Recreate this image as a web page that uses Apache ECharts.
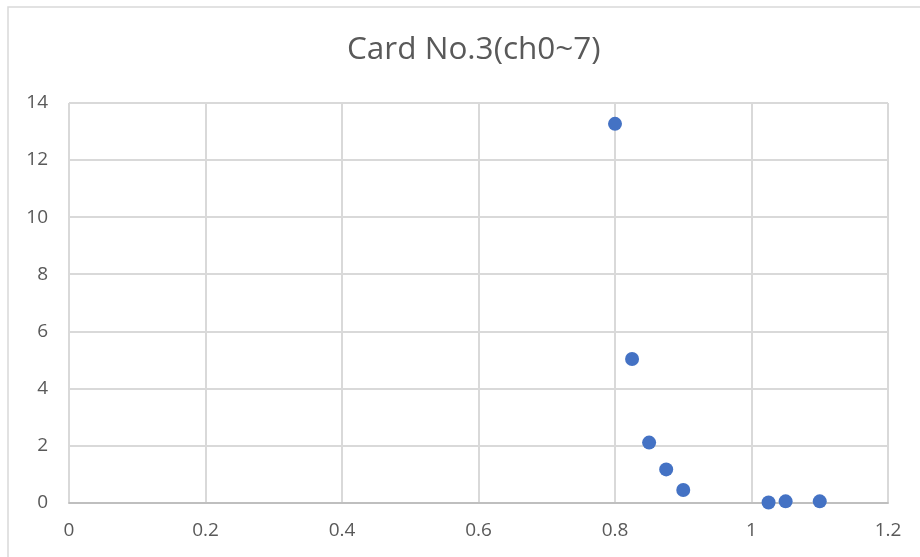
<!DOCTYPE html>
<html>
<head>
<meta charset="utf-8">
<script src="https://cdn.jsdelivr.net/npm/echarts@6/dist/echarts.min.js"></script>
<style>
  html, body { margin: 0; padding: 0; background: #fff; }
  #chart { width: 920px; height: 557px; }
</style>
</head>
<body>
<div id="chart"></div>
<script>
// Measurements for card No.3, channels 0 to 7
const xValues = [0.8, 0.825, 0.85, 0.875, 0.9, 1.025, 1.05, 1.1];
const yValues = [13.27, 5.03, 2.1, 1.16, 0.44, 0.0, 0.04, 0.04];
const titleText = 'Card No.3(ch0~7)';

const points = xValues.map((x, i) => [x, yValues[i]]);

const chart = echarts.init(document.getElementById('chart'), null, { renderer: 'canvas' });
const font = '"Open Sans", "Noto Sans", sans-serif';

chart.setOption({
  backgroundColor: '#ffffff',
  animation: false,
  title: {
    text: titleText,
    left: 342,
    top: 29,
    textStyle: { fontFamily: font, fontSize: 31.5, fontWeight: 'normal', color: '#595959' }
  },
  graphic: [{
    type: 'rect',
    shape: { x: 8, y: 7, width: 1000, height: 1000 },
    style: { fill: 'none', stroke: '#d9d9d9', lineWidth: 1.5 },
    silent: true
  }],
  grid: { left: 69, right: 32, top: 103, bottom: 54.5 },
  xAxis: {
    type: 'value',
    min: 0, max: 1.2, interval: 0.2,
    axisLine: { show: true, lineStyle: { color: '#bfbfbf', width: 2 } },
    axisTick: { show: false },
    splitLine: { show: true, lineStyle: { color: '#d9d9d9', width: 2 } },
    axisLabel: { fontFamily: font, fontSize: 19, color: '#595959', margin: 19,
      formatter: v => String(Math.round(v * 10) / 10) }
  },
  yAxis: {
    type: 'value',
    min: 0, max: 14, interval: 2,
    axisLine: { show: false },
    axisTick: { show: false },
    splitLine: { show: true, lineStyle: { color: '#d9d9d9', width: 2 } },
    axisLabel: { fontFamily: font, fontSize: 19, color: '#595959', margin: 21 }
  },
  series: [{
    type: 'scatter',
    data: points,
    symbol: 'circle',
    symbolSize: 14,
    itemStyle: { color: '#4472c4', opacity: 1 },
    z: 5
  }]
});
</script>
</body>
</html>
